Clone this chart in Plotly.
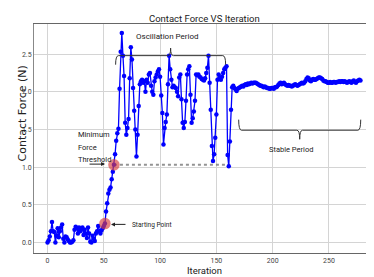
import plotly.graph_objects as go

iterations = list(range(0, 279))
force = [
    # 0-59 : ramp-up
    0.00, 0.03, 0.08, 0.15, 0.27, 0.15, 0.14, 0.00, 0.09, 0.19,
    0.07, 0.15, 0.20, 0.24, 0.05, 0.00, 0.08, 0.07, 0.04, 0.02,
    0.00, 0.00, 0.01, 0.03, 0.17, 0.21, 0.19, 0.12, 0.20, 0.15,
    0.18, 0.20, 0.10, 0.17, 0.12, 0.06, 0.20, 0.12, 0.01, 0.00,
    0.09, 0.05, 0.02, 0.12, 0.15, 0.22, 0.15, 0.12, 0.16, 0.19,
    0.22, 0.25, 0.41, 0.52, 0.65, 0.70, 0.73, 0.84, 0.94, 1.03,
    # 60-166 : oscillation
    1.17, 1.35, 1.45, 1.51, 2.04, 2.53, 2.78, 2.48, 2.21, 1.59,
    1.43, 1.52, 1.64, 2.18, 2.59, 2.43, 2.05, 1.75, 1.50, 1.14,
    1.43, 1.81, 2.10, 2.14, 2.16, 2.12, 2.14, 2.00, 2.16, 2.12,
    2.23, 2.25, 2.08, 2.00, 1.96, 2.14, 2.19, 2.23, 2.27, 2.30,
    2.20, 1.95, 1.72, 1.30, 1.52, 1.60, 1.70, 2.10, 2.48, 2.30,
    2.16, 2.06, 2.08, 2.06, 2.05, 2.00, 1.94, 2.19, 2.23, 1.90,
    1.59, 1.52, 1.60, 1.88, 2.23, 2.30, 2.34, 1.96, 1.59, 1.65,
    1.74, 1.88, 2.23, 2.22, 2.23, 2.20, 2.19, 2.17, 2.16, 2.15,
    2.18, 2.25, 2.32, 2.48, 2.12, 1.76, 1.28, 1.08, 1.17, 1.39,
    1.70, 2.16, 2.23, 2.18, 2.16, 2.20, 2.25, 2.30, 2.32, 2.34,
    1.16, 1.01, 1.34, 1.76, 2.06, 2.08, 2.05,
    # 167-278 : stable
    2.03, 2.01, 2.04, 2.05, 2.06, 2.07, 2.08, 2.07, 2.09, 2.10,
    2.09, 2.11, 2.10, 2.11, 2.12, 2.11, 2.12, 2.12, 2.12, 2.11,
    2.10, 2.09, 2.08, 2.08, 2.07, 2.06, 2.07, 2.06, 2.05, 2.05,
    2.04, 2.04, 2.05, 2.05, 2.04, 2.06, 2.06, 2.07, 2.09, 2.11,
    2.12, 2.10, 2.11, 2.12, 2.10, 2.09, 2.08, 2.09, 2.08, 2.08,
    2.07, 2.08, 2.09, 2.10, 2.09, 2.08, 2.09, 2.10, 2.11, 2.12,
    2.11, 2.12, 2.14, 2.17, 2.19, 2.18, 2.15, 2.14, 2.16, 2.17,
    2.16, 2.16, 2.17, 2.18, 2.19, 2.19, 2.18, 2.17, 2.15, 2.14,
    2.14, 2.13, 2.12, 2.12, 2.13, 2.12, 2.12, 2.13, 2.13, 2.12,
    2.13, 2.13, 2.14, 2.13, 2.14, 2.14, 2.13, 2.14, 2.13, 2.12,
    2.13, 2.14, 2.13, 2.12, 2.14, 2.15, 2.13, 2.12, 2.14, 2.15,
    2.16, 2.15,
]

start_idx = 51
threshold_idx = 59
threshold_end = 162
osc_period = (60.5, 158.2)
stable_period = (169.8, 278.2)

x_ticks = [0, 50, 100, 150, 200, 250]
y_ticks = [0.0, 0.5, 1.0, 1.5, 2.0, 2.5]
y_tick_labels = ["0.0", "0.5", "1.0", "1.5", "2.0", "2.5"]

FONT = "Roboto, Liberation Sans, sans-serif"
TXT = "#222222"

fig = go.Figure()

# threshold line
thr_y = force[threshold_idx]
fig.add_trace(go.Scatter(
    x=[iterations[threshold_idx], threshold_end], y=[thr_y, thr_y],
    mode="lines", line=dict(color="rgba(120,120,120,0.8)", width=2, dash="dot"),
    hoverinfo="skip", showlegend=False))

fig.add_trace(go.Scatter(
    x=iterations, y=force, mode="lines+markers",
    line=dict(color="#0000ff", width=1.3),
    marker=dict(color="#0000ff", size=4.5),
    showlegend=False))

fig.add_trace(go.Scatter(
    x=[iterations[start_idx], iterations[threshold_idx]],
    y=[force[start_idx], force[threshold_idx]],
    mode="markers",
    marker=dict(color="rgba(215,60,60,0.65)", size=11.5),
    showlegend=False))


def brace(x0, x1, y_line, y_end, y_tip):
    xm = (x0 + x1) / 2
    d = 2.5
    return (f"M {x0},{y_end} Q {x0},{y_line} {x0+d},{y_line} "
            f"L {xm-d},{y_line} Q {xm},{y_line} {xm},{y_tip} "
            f"Q {xm},{y_line} {xm+d},{y_line} "
            f"L {x1-d},{y_line} Q {x1},{y_line} {x1},{y_end}")


fig.add_shape(type="path", xref="x", yref="y",
              path=brace(osc_period[0], osc_period[1], 2.48, 2.36, 2.58),
              line=dict(color="#333333", width=1))
fig.add_shape(type="path", xref="x", yref="y",
              path=brace(stable_period[0], stable_period[1], 1.49, 1.63, 1.37),
              line=dict(color="#333333", width=1))

fig.add_annotation(x=107, y=2.74, xref="x", yref="y",
                   text="Oscillation Period", showarrow=False,
                   font=dict(family=FONT, size=8, color=TXT))
fig.add_annotation(x=216, y=1.24, xref="x", yref="y",
                   text="Stable Period", showarrow=False,
                   font=dict(family=FONT, size=7.5, color=TXT))

# starting point arrow + label
fig.add_annotation(x=56.4, y=0.24, xref="x", yref="y", ax=16, ay=0,
                   text="", showarrow=True, arrowhead=2, arrowsize=0.8,
                   arrowwidth=1, arrowcolor="#222")
fig.add_annotation(x=73.3, y=0.23, xref="x", yref="y", xanchor="left",
                   text="Starting Point", showarrow=False,
                   font=dict(family=FONT, size=6.5, color=TXT))

# threshold arrow + label
fig.add_annotation(x=51.1, y=1.04, xref="x", yref="y", ax=-17, ay=0,
                   text="", showarrow=True, arrowhead=2, arrowsize=0.8,
                   arrowwidth=1, arrowcolor="#222")
for word, yv in [("Minimum", 1.43), ("Force", 1.26), ("Threshold", 1.10)]:
    fig.add_annotation(x=25.3, y=yv, xref="x", yref="y", xanchor="left",
                       text=word, showarrow=False,
                       font=dict(family=FONT, size=7.5, color=TXT))

# axis titles
fig.add_annotation(x=0, y=0.607, xref="paper", yref="paper", xshift=-20,
                   text="Contact Force (N)", textangle=-90, showarrow=False,
                   font=dict(family="DejaVu Sans", size=11, color=TXT))
fig.add_annotation(x=0.5, y=0, xref="paper", yref="paper", yshift=-17,
                   yanchor="middle",
                   text="Iteration", showarrow=False,
                   font=dict(family=FONT, size=9.5, color=TXT))

fig.update_layout(
    width=374, height=277,
    margin=dict(l=26, r=8, t=16, b=32, autoexpand=False),
    paper_bgcolor="white", plot_bgcolor="white",
    title=dict(text="Contact Force VS Iteration", x=0.525, xanchor="center",
               y=0.975, yanchor="top",
               font=dict(family=FONT, size=9.5, color=TXT)),
    font=dict(family=FONT, size=7, color="#333"),
)
fig.update_xaxes(range=[-12, 290], tickvals=x_ticks, showgrid=True,
                 gridcolor="#d4d4d4", gridwidth=1, zeroline=False,
                 showline=True, linecolor="#666", linewidth=1.2, mirror=True,
                 ticks="", automargin=False,
                 tickfont=dict(size=7, color="#444"))
fig.update_yaxes(range=[-0.14, 2.9], tickvals=y_ticks, ticktext=y_tick_labels,
                 showgrid=True, gridcolor="#d4d4d4", gridwidth=1, zeroline=False,
                 showline=True, linecolor="#888", linewidth=1, mirror=True,
                 ticks="", automargin=False,
                 tickfont=dict(size=7, color="#444"))

fig.write_html("out.html")
